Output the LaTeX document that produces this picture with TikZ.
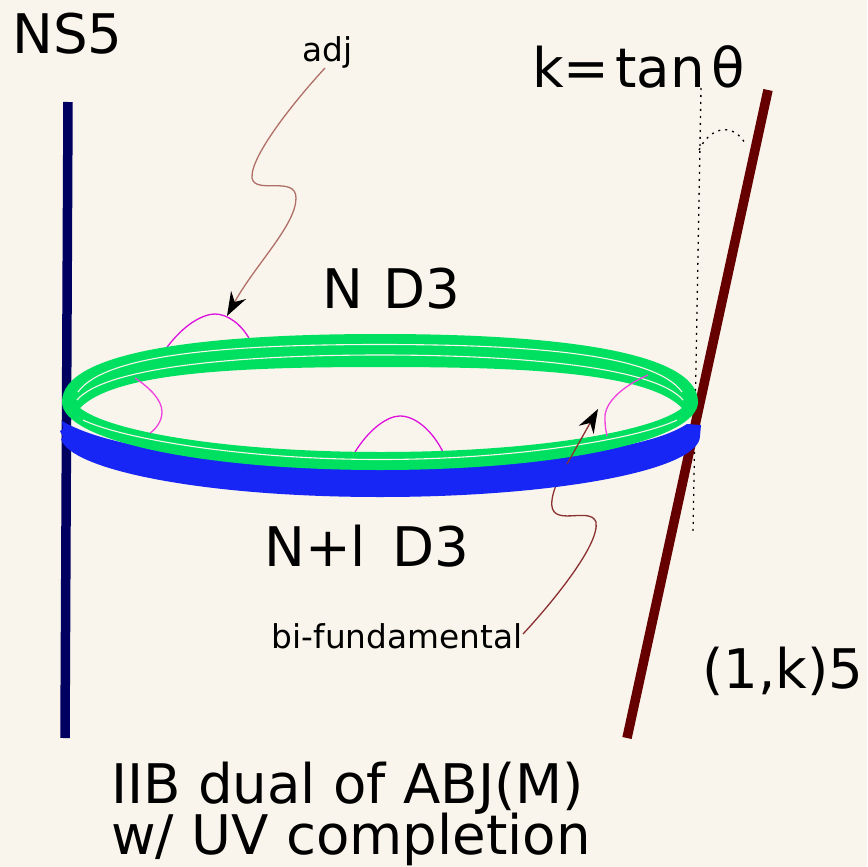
\documentclass[tikz,border=0pt]{standalone}
\usepackage{fontspec}
\setmainfont{DejaVu Sans}
\usetikzlibrary{arrows.meta}
\definecolor{bgc}{HTML}{F9F5EC}
\definecolor{gr}{HTML}{00E060}
\definecolor{bl}{HTML}{1726F5}
\definecolor{nv}{HTML}{000060}
\definecolor{br}{HTML}{660000}
\definecolor{mg}{HTML}{DD10DD}
\definecolor{mgl}{HTML}{F040E0}
\definecolor{adjc}{HTML}{B07068}
\definecolor{bfc}{HTML}{8A3030}
\tikzset{
 big/.style={anchor=base west,inner sep=0pt,font=\fontsize{54.6}{54.6}\selectfont},
 small/.style={anchor=base west,inner sep=0pt,font=\fontsize{32.8}{32.8}\selectfont},
 brane/.style={line width=9.5pt},
 gap/.style={draw=bgc,line width=1.1pt},
 arcm/.style={draw=mg,line width=1.3pt},
 arcl/.style={draw=mgl,line width=1.3pt},
 tip/.style={-{Stealth[length=24pt,width=17pt,inset=8pt,black]}},
 dots/.style={line width=1.3pt,dash pattern=on 2pt off 5pt}
}
\begin{document}
\begin{tikzpicture}[x=1pt,y=-1pt]
\useasboundingbox[fill=bgc] (0,0) rectangle (867,867);
\node[big] (ns) at (12,54) {NS5};
\node[big] (kt) at (532,87) {k=\kern6pt tan\kern6pt θ};
\node[big] (nd) at (322,308) {N\kern3pt\ D3};
\node[big] (npl) at (264,566) {N+l\kern9pt\ D3};
\node[big] (k5) at (702,688) {(1,k)5};
\node[big] (t1) at (111,803) {IIB dual of ABJ(M)};
\node[big] (t2) at (111,854) {w/ UV completion};
\node[small] (adj) at (302,62) {adj};
\node[small] (bif) at (271.5,648) {bi-fundamental};
\coordinate (a0) at (68,102); \coordinate (a1) at (65,738);
\coordinate (b0) at (768,90); \coordinate (b1) at (627,738);
\coordinate (d0) at (701,88); \coordinate (d1) at (693,533);
\coordinate (ar0) at (699,150); \coordinate (ar1) at (745,143);
\coordinate (adjs) at (325,68); \coordinate (adje) at (227,316);
\coordinate (bifv) at (567,464); \coordinate (bife) at (598,409);
\draw[dots] (d0) -- (d1);
\draw[dots] (ar0) .. controls (710,127) and (732,122) .. (ar1);
\draw[brane,nv] (a0) -- (a1);
\draw[brane,br] (b0) -- (b1);
\draw[bfc,line width=1.3pt] (523,634) coordinate (bifs)
  .. controls (550,605) and (600,545) .. (596,522)
  .. controls (590,505) and (548,530) .. (552,500)
  .. controls (553,490) and (560,475) .. (bifv);
\draw[arcm] (165,350) .. controls (185,322) and (205,314) .. (215,314) .. controls (228,314) and (242,325) .. (250,340);
\draw[arcm] (355,452) .. controls (370,428) and (388,416) .. (400,416) .. controls (415,416) and (432,430) .. (443,452);
% blue band: only its lower part shows
\fill[bl] (62,421) -- (63,429) -- (60,431) -- (63,437) -- (61,439)
  .. controls (70,470) and (204,497) .. (380,497)
  .. controls (556,497) and (700,470) .. (700,436) -- (701,425) -- (687,424)
  .. controls (640,455) and (500,462) .. (380,462) .. controls (260,462) and (120,455) .. (62,421) -- cycle;
% green rings as one band with a lens-shaped hole
\fill[gr,even odd rule]
  (62,402) .. controls (62,352) and (200,334) .. (380,334)
  .. controls (560,334) and (698,352) .. (698,402)
  .. controls (698,440) and (560,470) .. (380,470)
  .. controls (200,470) and (62,440) .. (62,402) -- cycle
  (80,408) .. controls (115,372) and (240,367) .. (381,367)
  .. controls (522,367) and (647,372) .. (682,408)
  .. controls (652,432) and (532,452) .. (381,452)
  .. controls (230,452) and (110,432) .. (80,408) -- cycle;
% thin gaps between the rings
\draw[gap] (78,392) .. controls (105,354) and (230,344.5) .. (380,344.5)
  .. controls (530,344.5) and (655,354) .. (682,392);
\draw[gap] (77,400) .. controls (105,367) and (240,355) .. (380,355)
  .. controls (520,355) and (655,367) .. (683,400);
\draw[gap] (83,420) .. controls (120,438) and (240,459.5) .. (380,459.5)
  .. controls (520,459.5) and (640,438) .. (677,420);
\draw[arcl] (135,378) .. controls (150,388) and (162,400) .. (162,412) .. controls (162,421) and (156,429) .. (150,433);
\draw[arcl] (648,375) .. controls (625,385) and (603,402) .. (605,420) .. controls (605,426) and (606,431) .. (607,436);
\draw[adjc,line width=1.3pt,tip] (adjs) .. controls (300,95) and (250,155) .. (252,178)
  .. controls (255,195) and (296,175) .. (296,198)
  .. controls (296,225) and (255,265) .. (adje);
\draw[bfc,line width=1.3pt,tip] (bifv) -- (bife);
\end{tikzpicture}
\end{document}
